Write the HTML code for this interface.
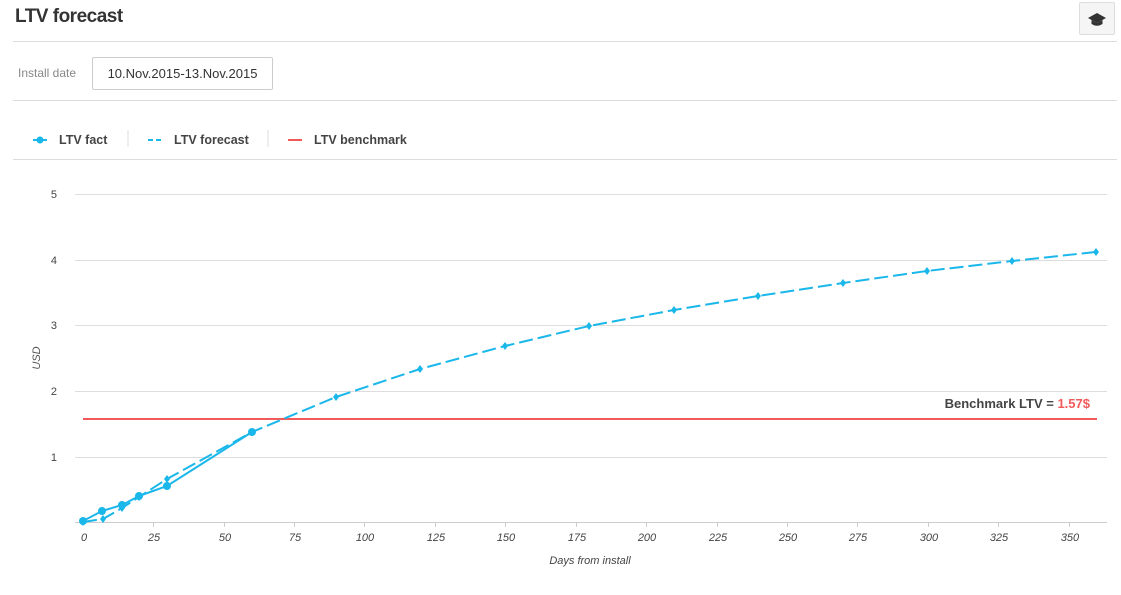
<!DOCTYPE html><html><head><style>
body{margin:0;width:1121px;height:595px;background:#fff;font-family:"Liberation Sans",sans-serif;position:relative;overflow:hidden}
.a{position:absolute}
</style></head><body>
<div class="a" style="left:15px;top:6px;font-size:19px;font-weight:bold;color:#333;letter-spacing:-0.5px">LTV forecast</div>
<div class="a" style="left:1079px;top:2px;width:34px;height:31px;border:1px solid #ddd;background:#f5f5f5;border-radius:2px"><svg width="34" height="31"><path d="M8 15 L17 10 L26 15 L17 20Z" fill="#333"/><path d="M11.5 17 L11.5 21 Q17 24.5 22.5 21 L22.5 17 L17 20Z" fill="#333"/></svg></div>
<div class="a" style="left:13px;top:41px;width:1104px;height:1px;background:#dcdcdc"></div>
<div class="a" style="left:18px;top:66px;font-size:12px;color:#888">Install date</div>
<div class="a" style="left:92px;top:57px;width:179px;height:31px;border:1px solid #ccc;border-radius:2px;font-size:13px;color:#333;line-height:31px;text-align:center">10.Nov.2015-13.Nov.2015</div>
<div class="a" style="left:13px;top:100px;width:1104px;height:1px;background:#dcdcdc"></div>
<svg class="a" style="left:0;top:125px" width="450" height="30"><line x1="33" y1="15" x2="47" y2="15" stroke="#1ab7ea" stroke-width="2"/><circle cx="40" cy="15" r="3.5" fill="#1ab7ea"/><line x1="128" y1="5" x2="128" y2="22" stroke="#ddd"/><line x1="148" y1="15" x2="161" y2="15" stroke="#1ab7ea" stroke-width="2" stroke-dasharray="5,3"/><line x1="268" y1="5" x2="268" y2="22" stroke="#ddd"/><line x1="288" y1="15" x2="302" y2="15" stroke="#f25a5a" stroke-width="2"/></svg>
<div class="a" style="left:59px;top:133px;font-size:12.5px;font-weight:bold;color:#444">LTV fact</div>
<div class="a" style="left:174px;top:133px;font-size:12.5px;font-weight:bold;color:#444">LTV forecast</div>
<div class="a" style="left:314px;top:133px;font-size:12.5px;font-weight:bold;color:#444">LTV benchmark</div>
<div class="a" style="left:13px;top:159px;width:1104px;height:1px;background:#dcdcdc"></div>
<svg class="a" style="left:0;top:0" width="1121" height="595" font-family="Liberation Sans, sans-serif">
<g stroke="#ddd" stroke-width="1"><line x1="75" y1="194.5" x2="1107" y2="194.5"/><line x1="75" y1="260.5" x2="1107" y2="260.5"/><line x1="75" y1="325.5" x2="1107" y2="325.5"/><line x1="75" y1="391.5" x2="1107" y2="391.5"/><line x1="75" y1="457.5" x2="1107" y2="457.5"/></g>
<line x1="75" y1="522.5" x2="1107" y2="522.5" stroke="#ccc"/>
<g stroke="#ccc"><line x1="153.5" y1="522" x2="153.5" y2="527"/><line x1="224.5" y1="522" x2="224.5" y2="527"/><line x1="294.5" y1="522" x2="294.5" y2="527"/><line x1="364.5" y1="522" x2="364.5" y2="527"/><line x1="435.5" y1="522" x2="435.5" y2="527"/><line x1="505.5" y1="522" x2="505.5" y2="527"/><line x1="576.5" y1="522" x2="576.5" y2="527"/><line x1="646.5" y1="522" x2="646.5" y2="527"/><line x1="717.5" y1="522" x2="717.5" y2="527"/><line x1="787.5" y1="522" x2="787.5" y2="527"/><line x1="857.5" y1="522" x2="857.5" y2="527"/><line x1="928.5" y1="522" x2="928.5" y2="527"/><line x1="998.5" y1="522" x2="998.5" y2="527"/><line x1="1069.5" y1="522" x2="1069.5" y2="527"/></g>
<g font-size="11" fill="#444" text-anchor="end"><text x="57" y="198">5</text><text x="57" y="264">4</text><text x="57" y="329">3</text><text x="57" y="395">2</text><text x="57" y="461">1</text></g>
<g font-size="11" fill="#444" text-anchor="middle" font-style="italic"><text x="84" y="541">0</text><text x="154" y="541">25</text><text x="225" y="541">50</text><text x="295" y="541">75</text><text x="365" y="541">100</text><text x="436" y="541">125</text><text x="506" y="541">150</text><text x="577" y="541">175</text><text x="647" y="541">200</text><text x="718" y="541">225</text><text x="788" y="541">250</text><text x="858" y="541">275</text><text x="929" y="541">300</text><text x="999" y="541">325</text><text x="1070" y="541">350</text></g>
<text x="590" y="564" font-size="11" fill="#444" font-style="italic" text-anchor="middle">Days from install</text>
<text x="40" y="358" font-size="11" fill="#555" font-style="italic" text-anchor="middle" transform="rotate(-90 40 358)">USD</text>
<line x1="83" y1="419" x2="1097" y2="419" stroke="#f25a5a" stroke-width="2"/>
<text x="1090" y="408" font-size="13" font-weight="bold" fill="#444" text-anchor="end">Benchmark LTV = <tspan fill="#f25a5a">1.57$</tspan></text>
<polyline fill="none" stroke="#1ab7ea" stroke-width="2" stroke-dasharray="14,5" points="83,522 103,519 122,508 139,497 167,479 252,432 336,397 420,369 505,346 589,326 674,310 758,296 843,283 927,271 1012,261 1096,252"/>
<g fill="#1ab7ea"><path d="M83 518l3 4-3 4-3-4z"/><path d="M103 515l3 4-3 4-3-4z"/><path d="M122 504l3 4-3 4-3-4z"/><path d="M139 493l3 4-3 4-3-4z"/><path d="M167 475l3 4-3 4-3-4z"/><path d="M252 428l3 4-3 4-3-4z"/><path d="M336 393l3 4-3 4-3-4z"/><path d="M420 365l3 4-3 4-3-4z"/><path d="M505 342l3 4-3 4-3-4z"/><path d="M589 322l3 4-3 4-3-4z"/><path d="M674 306l3 4-3 4-3-4z"/><path d="M758 292l3 4-3 4-3-4z"/><path d="M843 279l3 4-3 4-3-4z"/><path d="M927 267l3 4-3 4-3-4z"/><path d="M1012 257l3 4-3 4-3-4z"/><path d="M1096 248l3 4-3 4-3-4z"/></g>
<polyline fill="none" stroke="#1ab7ea" stroke-width="2" points="83,521 102,511 122,505 139,496 167,486 252,432"/>
<g fill="#1ab7ea"><circle cx="83" cy="521" r="4"/><circle cx="102" cy="511" r="4"/><circle cx="122" cy="505" r="4"/><circle cx="139" cy="496" r="4"/><circle cx="167" cy="486" r="4"/><circle cx="252" cy="432" r="4"/></g>
</svg>
</body></html>
